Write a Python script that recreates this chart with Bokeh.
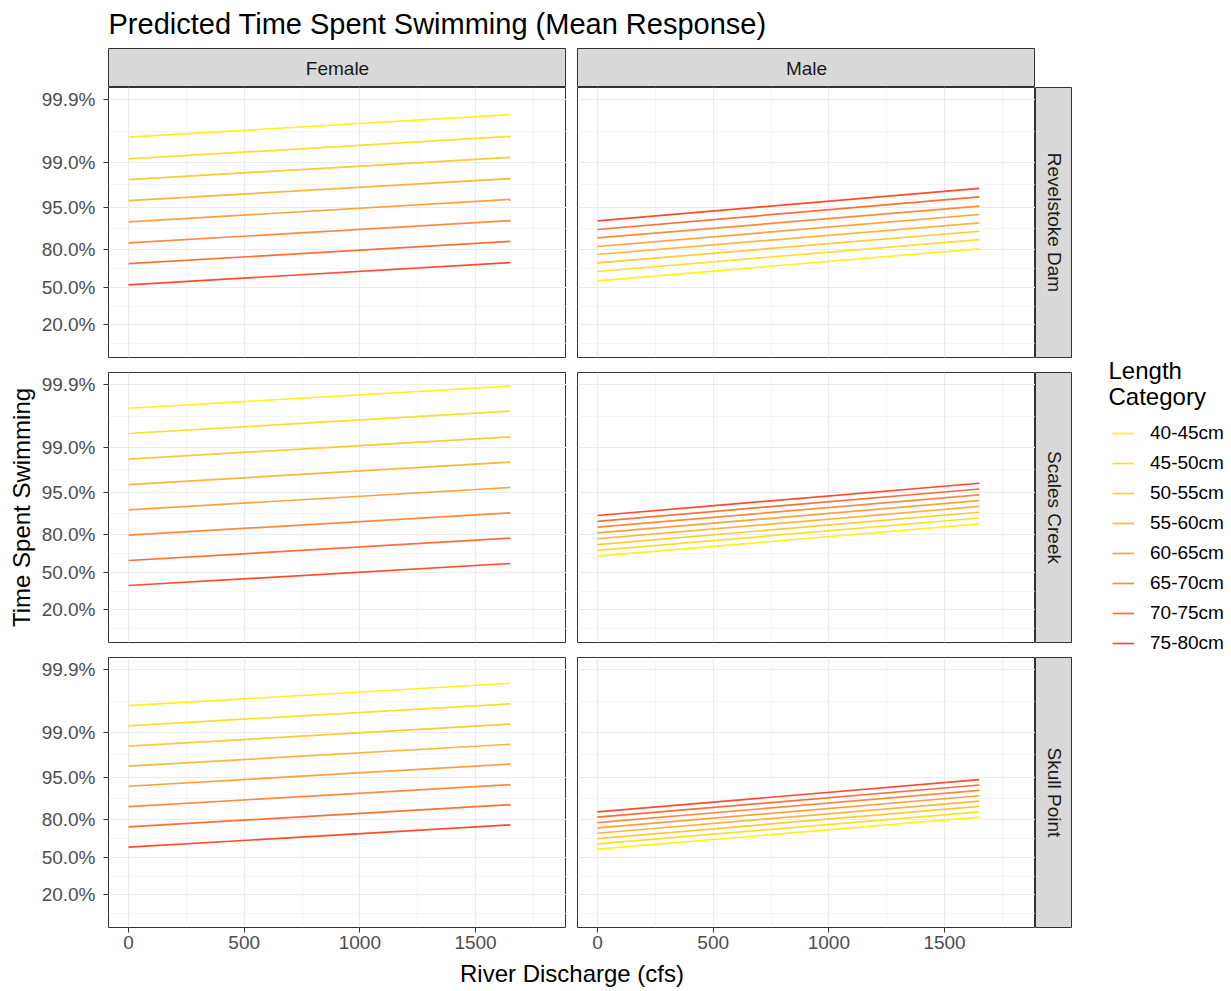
import math
import numpy as np
from bokeh.plotting import figure
from bokeh.layouts import column, row
from bokeh.models import Range1d, FixedTicker, Label, Legend, LegendItem, Spacer
from bokeh.embed import file_html
from bokeh.resources import INLINE

# ---------------- data ----------------
categories = ["40-45cm", "45-50cm", "50-55cm", "55-60cm",
              "60-65cm", "65-70cm", "70-75cm", "75-80cm"]
colors = ["#FFF11C", "#FFDE2A", "#FFCA33", "#FFB53A",
          "#FFA03D", "#FF8A3C", "#FF6E35", "#FF4B2B"]
sexes = ["Female", "Male"]
sites = ["Revelstoke Dam", "Scales Creek", "Skull Point"]
discharge_cfs = [0, 1650]

# predicted % of time spent swimming at 0 cfs (start) and 1650 cfs (end)
rev_female_start = [99.605, 99.122, 98.138, 96.05, 91.73, 83.64, 70.39, 52.20]
rev_female_end = [99.827, 99.616, 99.170, 98.205, 96.23, 92.09, 84.40, 71.30]
rev_male_start = [55.87, 64.08, 71.07, 76.94, 81.76, 86.07, 89.35, 92.04]
rev_male_end = [80.47, 85.25, 88.72, 91.46, 93.58, 95.19, 96.54, 97.44]
sca_female_start = [99.763, 99.401, 98.471, 96.20, 90.88, 79.64, 60.61, 37.99]
sca_female_end = [99.895, 99.736, 99.324, 98.30, 95.78, 89.93, 77.80, 57.96]
sca_male_start = [64.34, 69.09, 73.46, 77.43, 80.95, 84.03, 86.71, 88.99]
sca_male_end = [85.61, 88.05, 90.12, 91.87, 93.33, 94.55, 95.55, 96.37]
sku_female_start = [99.627, 99.217, 98.358, 96.63, 93.19, 86.59, 75.34, 59.12]
sku_female_end = [99.836, 99.651, 99.264, 98.47, 96.86, 93.56, 87.43, 76.68]
sku_male_start = [57.32, 62.03, 66.55, 70.77, 74.67, 78.19, 81.37, 84.16]
sku_male_end = [81.38, 84.20, 86.66, 88.79, 90.60, 92.16, 93.47, 94.58]

y_tick_values = [0.2, 0.5, 0.8, 0.95, 0.99, 0.999]
y_tick_labels = ["20.0%", "50.0%", "80.0%", "95.0%", "99.0%", "99.9%"]
x_tick_values = [0, 500, 1000, 1500]
x_tick_labels = ["0", "500", "1000", "1500"]

panel_data = {
    ("Revelstoke Dam", "Female"): (rev_female_start, rev_female_end),
    ("Revelstoke Dam", "Male"): (rev_male_start, rev_male_end),
    ("Scales Creek", "Female"): (sca_female_start, sca_female_end),
    ("Scales Creek", "Male"): (sca_male_start, sca_male_end),
    ("Skull Point", "Female"): (sku_female_start, sku_female_end),
    ("Skull Point", "Male"): (sku_male_start, sku_male_end),
}

# ---------------- helpers ----------------
FONT = "Liberation Sans"


def logit(pct):
    p = pct / 100.0 if pct > 1 else pct
    return math.log(p / (1.0 - p))


def minor_of(ticks):
    ext = [2 * ticks[0] - ticks[1]] + list(ticks) + [2 * ticks[-1] - ticks[-2]]
    return [(a + b) / 2.0 for a, b in zip(ext[:-1], ext[1:])]


y_major = [logit(v) for v in y_tick_values]
y_minor = minor_of(y_major)
x_minor = minor_of(x_tick_values)

x_range = Range1d(-86.4, 1893)
y_range = Range1d(-2.59, 7.36)

PANEL_W, PANEL_H = 458, 270
LEFT_W = 108
GAP_W = 11
LINE_W = 1.7


def base_fig(width, height, **kw):
    return figure(width=width, height=height, output_backend="svg",
                  toolbar_location=None, tools="", title=None, **kw)


def blank_fig(width, height, xr, yr, mbl=0, mbb=0):
    p = base_fig(width, height, x_range=xr, y_range=yr,
                 x_axis_location=None, y_axis_location=None,
                 min_border_left=mbl, min_border_right=0,
                 min_border_top=0, min_border_bottom=mbb)
    p.grid.visible = False
    return p


def make_panel(site, sex, left_axis, bottom_axis, ylabel, bottom_border):
    w = PANEL_W + (LEFT_W if left_axis else GAP_W)
    h = PANEL_H + bottom_border
    p = base_fig(w, h, x_range=x_range, y_range=y_range,
                 x_axis_location="below" if bottom_axis else None,
                 y_axis_location="left" if left_axis else None,
                 min_border_left=LEFT_W if left_axis else GAP_W,
                 min_border_right=0, min_border_top=0,
                 min_border_bottom=bottom_border)
    p.outline_line_color = "#333333"
    p.outline_line_width = 1
    p.xgrid.ticker = FixedTicker(ticks=x_tick_values, minor_ticks=x_minor)
    p.ygrid.ticker = FixedTicker(ticks=y_major, minor_ticks=y_minor)
    for g in list(p.xgrid) + list(p.ygrid):
        g.grid_line_color = "#EBEBEB"
        g.grid_line_width = 1.2
        g.minor_grid_line_color = "#F0F0F0"
        g.minor_grid_line_width = 0.7
    if left_axis:
        ax = p.yaxis[0]
        ax.ticker = FixedTicker(ticks=y_major)
        ax.major_label_overrides = {v: lab for v, lab in zip(y_major, y_tick_labels)}
        ax.axis_label = ylabel
    if bottom_axis:
        ax = p.xaxis[0]
        ax.ticker = FixedTicker(ticks=x_tick_values)
        ax.major_label_overrides = {v: lab for v, lab in zip(x_tick_values, x_tick_labels)}
    for ax in list(p.xaxis) + list(p.yaxis):
        ax.axis_line_color = None
        ax.major_tick_line_color = "#333333"
        ax.major_tick_in = 0
        ax.major_tick_out = 5
        ax.minor_tick_line_color = None
        ax.major_label_text_font = FONT
        ax.major_label_text_font_size = "19px"
        ax.major_label_text_color = "#4D4D4D"
        ax.axis_label_text_font = FONT
        ax.axis_label_text_font_size = "24px"
        ax.axis_label_text_font_style = "normal"
        ax.axis_label_text_color = "black"
    if left_axis:
        p.yaxis[0].major_label_standoff = 8
        p.yaxis[0].axis_label_standoff = 4
    if bottom_axis:
        p.xaxis[0].major_label_standoff = 3

    start, end = panel_data[(site, sex)]
    for i, cat in enumerate(categories):
        p.line(discharge_cfs, [logit(start[i]), logit(end[i])],
               line_color=colors[i], line_width=LINE_W)
    return p


def top_strip(text, left_border):
    p = blank_fig(PANEL_W + left_border, 39, Range1d(0, 1), Range1d(0, 1), mbl=left_border)
    p.background_fill_color = "#D9D9D9"
    p.outline_line_color = "#333333"
    p.outline_line_width = 1
    p.add_layout(Label(x=0.5, y=0.5, text=text, text_align="center",
                       text_baseline="middle", text_font=FONT,
                       text_font_size="19px", text_color="#1A1A1A"))
    return p


def right_strip(text, bottom_border):
    p = blank_fig(37, PANEL_H + bottom_border, Range1d(0, 1), Range1d(0, 1), mbb=bottom_border)
    p.background_fill_color = "#D9D9D9"
    p.outline_line_color = "#333333"
    p.outline_line_width = 1
    p.add_layout(Label(x=0.5, y=0.5, text=text, text_align="center",
                       text_baseline="middle", angle=-math.pi / 2,
                       text_font=FONT, text_font_size="19px", text_color="#1A1A1A"))
    return p


# ---------------- build ----------------
bottoms = [15, 15, 34]

col_a = [top_strip(sexes[0], LEFT_W)]
col_b = [top_strip(sexes[1], GAP_W)]
col_c = [Spacer(width=37, height=39)]
for r, site in enumerate(sites):
    col_a.append(make_panel(site, sexes[0], True, r == 2,
                            "Time Spent Swimming" if r == 1 else "", bottoms[r]))
    col_b.append(make_panel(site, sexes[1], False, r == 2, "", bottoms[r]))
    col_c.append(right_strip(site, bottoms[r]))

# title
title_fig = blank_fig(1231, 48, Range1d(0, 1231), Range1d(48, 0))
title_fig.outline_line_color = None
title_fig.add_layout(Label(x=108, y=23, text="Predicted Time Spent Swimming (Mean Response)",
                           text_baseline="middle", text_font=FONT,
                           text_font_size="29px", text_color="black"))

# x axis title
xlab_fig = blank_fig(1231, 30, Range1d(0, 1231), Range1d(30, 0))
xlab_fig.outline_line_color = None
xlab_fig.add_layout(Label(x=571.5, y=12, text="River Discharge (cfs)",
                          text_align="center", text_baseline="middle",
                          text_font=FONT, text_font_size="24px", text_color="black"))

# legend (key renderers hold no visible data; only their legend glyphs are drawn)
LEG_H = 39 + 285 + 285 + 304
leg_fig = blank_fig(159, LEG_H, Range1d(0, 159), Range1d(LEG_H, 0))
leg_fig.outline_line_color = None
items = []
for cat, c in zip(categories, colors):
    r = leg_fig.line(x=np.array([np.nan, np.nan]), y=np.array([np.nan, np.nan]),
                     line_color=c, line_width=LINE_W)
    items.append(LegendItem(label=cat, renderers=[r]))
legend = Legend(items=items, location=(40, 303), padding=0, margin=0,
                spacing=0, glyph_width=22, glyph_height=30, label_height=30,
                label_standoff=16, label_text_font=FONT,
                label_text_font_size="19px", label_text_color="black",
                border_line_color=None, background_fill_alpha=0)
leg_fig.add_layout(legend, "center")
leg_fig.add_layout(Label(x=36, y=322, text="Length", text_baseline="middle",
                         text_font=FONT, text_font_size="24px", text_color="black"))
leg_fig.add_layout(Label(x=36, y=348, text="Category", text_baseline="middle",
                         text_font=FONT, text_font_size="24px", text_color="black"))

layout = column(title_fig,
                row(column(*col_a), column(*col_b), column(*col_c), leg_fig),
                xlab_fig)

open("out.html", "w").write(file_html(layout, INLINE))
